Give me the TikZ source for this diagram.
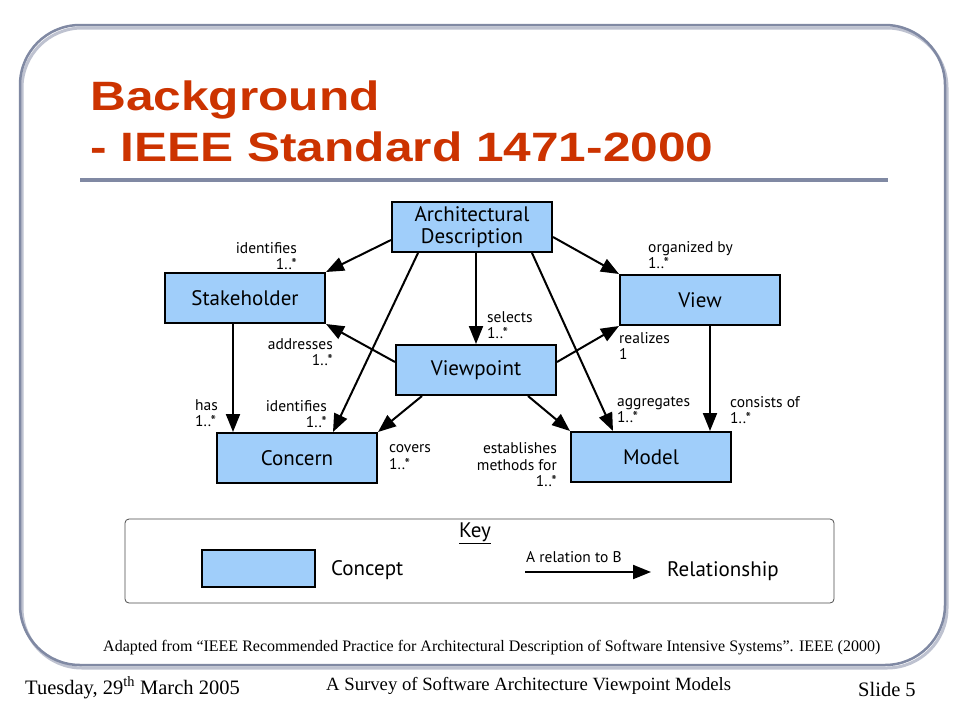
\documentclass[tikz,border=0pt]{standalone}
\usepackage{fontspec}
\setmainfont{Liberation Serif}
\newfontfamily\diagfont{PT Sans}
\newfontfamily\titlefont{Liberation Sans}
\usetikzlibrary{arrows.meta}
\definecolor{framecol}{RGB}{128,137,163}
\definecolor{shadecol}{RGB}{190,194,208}
\definecolor{titlecol}{RGB}{204,51,0}
\definecolor{conceptcol}{RGB}{160,206,250}
\tikzset{
  concept/.style={draw=black, line width=2pt, fill=conceptcol, minimum width=160pt,
    minimum height=50pt, inner sep=0pt, align=center,
    font=\diagfont\fontsize{21}{22}\selectfont},
  rel/.style={line width=2pt, -{Triangle[length=18pt,width=14pt]}},
  lbl/.style={inner sep=0pt, font=\diagfont\fontsize{15.5}{16.5}\selectfont},
  keytext/.style={inner sep=0pt, anchor=west, font=\diagfont\fontsize{21}{22}\selectfont},
  foot/.style={inner sep=0pt, anchor=base west},
}
\begin{document}
\begin{tikzpicture}[x=1pt,y=-1pt]
\useasboundingbox[fill=white] (0,0) rectangle (960,720);
% slide frame
\draw[shadecol, line width=3pt, rounded corners=60pt] (22,28) rectangle (947,668);
\draw[framecol, line width=2.5pt, rounded corners=60pt] (20,25) rectangle (945,665);
% title
\node[anchor=base west, inner sep=0pt, xscale=1.21, text=titlecol,
  font=\titlefont\bfseries\fontsize{41}{50}\selectfont] (title1) at (90,110) {Background};
\node[anchor=base west, inner sep=0pt, xscale=1.21, text=titlecol,
  font=\titlefont\bfseries\fontsize{41}{50}\selectfont] (title2) at (90,161) {- IEEE Standard 1471-2000};
\draw[framecol, line width=4pt] (80,180) -- (888,180);
% concepts
\node[concept] (ad) at (472,227) {Architectural\\Description};
\node[concept] (sh) at (245,298) {Stakeholder};
\node[concept] (view) at (700,300) {View};
\node[concept] (vp) at (476,370) {Viewpoint};
\node[concept] (cn) at (297,458) {Concern};
\node[concept] (model) at (651,457) {Model};
% relations
\draw[rel] ([yshift=-13pt]ad.west) -- (sh.north east);
\draw[rel] ([yshift=-10pt]ad.east) -- (view.north west);
\draw[rel] (vp.north |- ad.south) -- (vp.north);
\draw[rel] ([xshift=-54pt]ad.south) -- ([xshift=36pt]cn.north);
\draw[rel] ([xshift=60pt]ad.south) -- ([xshift=-38pt]model.north);
\draw[rel] ([yshift=8pt]vp.west) -- (sh.south east);
\draw[rel] ([yshift=8pt]vp.east) -- (view.south west);
\draw[rel] ([xshift=-54pt]vp.south) -- (cn.north east);
\draw[rel] ([xshift=52pt]vp.south) -- (model.north west);
\draw[rel] ([xshift=-12pt]sh.south) -- ([xshift=-12pt]sh.south |- cn.north);
\draw[rel] ([xshift=10pt]view.south) -- ([xshift=10pt]view.south |- model.north);
% relation labels
\node[lbl, align=right, anchor=east] (l1) at (297,256) {identifies\\1..*};
\node[lbl, align=left, anchor=west] (l2) at (487,325) {selects\\1..*};
\node[lbl, align=left, anchor=west] (l3) at (648,255) {organized by\\1..*};
\node[lbl, align=right, anchor=east] (l4) at (333,352) {addresses\\1..*};
\node[lbl, align=left, anchor=west] (l5) at (619,346) {realizes\\1};
\node[lbl, align=left, anchor=west] (l6) at (195,413) {has\\1..*};
\node[lbl, align=right, anchor=east] (l7) at (327,414) {identifies\\1..*};
\node[lbl, align=left, anchor=west] (l8) at (389,457) {covers\\1..*};
\node[lbl, align=right, anchor=east] (l9) at (557,465) {establishes\\methods for\\1..*};
\node[lbl, align=left, anchor=west] (l10) at (617,410) {aggregates\\1..*};
\node[lbl, align=left, anchor=west] (l11) at (730,410) {consists of\\1..*};
% key
\draw[black!70, line width=0.8pt, rounded corners=4pt] (125,519) rectangle (834,603);
\node[keytext, anchor=center] (keyt) at (475,533) {\underline{Key}};
\node[concept, minimum width=113pt, minimum height=37pt] (kbox) at (258,568) {};
\node[keytext] (kcon) at (331,570) {Concept};
\coordinate (ka) at (525,572);
\coordinate (kb) at (651,572);
\draw[rel] (ka) -- (kb);
\node[lbl, anchor=west] (krel) at (526,557) {A relation to B};
\node[keytext] (kr) at (667,571) {Relationship};
% footer
\node[foot, font=\fontsize{16}{18}\selectfont] (src) at (103,651)
  {Adapted from “IEEE Recommended Practice for Architectural Description of Software Intensive Systems”. IEEE (2000)};
\node[foot, font=\fontsize{20.5}{22}\selectfont] (date) at (25,694) {Tuesday, 29\textsuperscript{th} March 2005};
\node[foot, font=\fontsize{18.7}{20}\selectfont] (talk) at (326,690) {A Survey of Software Architecture Viewpoint Models};
\node[foot, font=\fontsize{20.5}{22}\selectfont] (slide) at (858,696) {Slide 5};
\end{tikzpicture}
\end{document}
